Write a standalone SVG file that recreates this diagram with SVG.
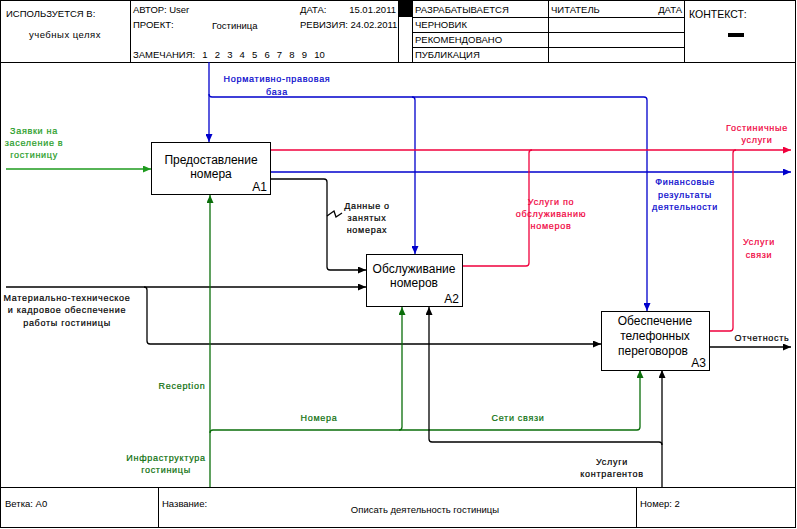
<svg xmlns="http://www.w3.org/2000/svg" width="797" height="529" viewBox="0 0 797 529">
<style>
.frame{fill:none;stroke:#000;stroke-width:1}
.hd{font-family:"Liberation Sans",Arial,sans-serif;font-size:9.5px;fill:#000}
.box{fill:#fff;stroke:#000;stroke-width:1}
.bt{font-family:"Liberation Sans",Arial,sans-serif;font-size:12px;fill:#000;text-anchor:middle}
.bn{font-family:"Liberation Sans",Arial,sans-serif;font-size:12px;fill:#000;text-anchor:end}
.lb{font-family:"Liberation Sans",Arial,sans-serif;font-size:9px;letter-spacing:0.7px;text-anchor:middle;stroke-width:0.2px}
.c{fill:none;stroke-width:1.3}
.k{stroke:#000}.b{stroke:#0000cc}.r{stroke:#f0003c}.g1{stroke:#1e9b1e}.g2{stroke:#0a6e0a}
</style>
<defs>
<marker id="ak" markerUnits="userSpaceOnUse" markerWidth="8" markerHeight="7" refX="8" refY="3.5" orient="auto"><path d="M0,0 L8,3.5 L0,7 z" fill="#000"/></marker>
<marker id="ab" markerUnits="userSpaceOnUse" markerWidth="8" markerHeight="7" refX="8" refY="3.5" orient="auto"><path d="M0,0 L8,3.5 L0,7 z" fill="#0000cc"/></marker>
<marker id="ar" markerUnits="userSpaceOnUse" markerWidth="8" markerHeight="7" refX="8" refY="3.5" orient="auto"><path d="M0,0 L8,3.5 L0,7 z" fill="#f0003c"/></marker>
<marker id="ag1" markerUnits="userSpaceOnUse" markerWidth="8" markerHeight="7" refX="8" refY="3.5" orient="auto"><path d="M0,0 L8,3.5 L0,7 z" fill="#1e9b1e"/></marker>
<marker id="ag2" markerUnits="userSpaceOnUse" markerWidth="8" markerHeight="7" refX="8" refY="3.5" orient="auto"><path d="M0,0 L8,3.5 L0,7 z" fill="#0a6e0a"/></marker>
</defs>
<rect width="797" height="529" fill="#fff"/>
<g id="frame">
<rect class="frame" x="0.5" y="0.5" width="795" height="527"/>
<path class="frame" d="M0,62.5 H796 M130.5,0 V62 M398.5,0 V62 M412.5,0 V62 M548.5,0 V62 M684.5,0 V62 M412,17.5 H684 M412,32.5 H684 M412,47.5 H684 M0,487.5 H796 M158.5,487 V528 M636.5,487 V528"/>
<rect x="398" y="0" width="14" height="17" fill="#000"/>
<rect x="728" y="33" width="16" height="4" fill="#000"/>
<text class="hd" x="6" y="17">ИСПОЛЬЗУЕТСЯ В:</text>
<text class="hd" x="65" y="38" text-anchor="middle" letter-spacing="0.5">учебных целях</text>
<text class="hd" x="133" y="13">АВТОР: User</text>
<text class="hd" x="133" y="28">ПРОЕКТ:</text>
<text class="hd" x="212" y="29">Гостиница</text>
<text class="hd" x="300" y="13">ДАТА:</text>
<text class="hd" x="396" y="13" text-anchor="end">15.01.2011</text>
<text class="hd" x="300" y="28">РЕВИЗИЯ: 24.02.2011</text>
<text class="hd" x="133" y="58" word-spacing="4.5px">ЗАМЕЧАНИЯ: 1 2 3 4 5 6 7 8 9 10</text>
<text class="hd" x="415" y="13">РАЗРАБАТЫВАЕТСЯ</text>
<text class="hd" x="415" y="28">ЧЕРНОВИК</text>
<text class="hd" x="415" y="43">РЕКОМЕНДОВАНО</text>
<text class="hd" x="415" y="58">ПУБЛИКАЦИЯ</text>
<text class="hd" x="551" y="13">ЧИТАТЕЛЬ</text>
<text class="hd" x="682" y="13" text-anchor="end">ДАТА</text>
<text class="hd" x="689" y="18" style="font-size:10.5px">КОНТЕКСТ:</text>
<text class="hd" x="5" y="507">Ветка:  А0</text>
<text class="hd" x="162" y="507">Название:</text>
<text class="hd" x="425" y="513" text-anchor="middle">Описать деятельность гостиницы</text>
<text class="hd" x="640" y="507">Номер: 2</text>
</g>
<g id="connectors">
<path class="c g1" d="M6,169 H151" marker-end="url(#ag1)"/>
<path class="c b" d="M209,62 V142" marker-end="url(#ab)"/>
<path class="c b" d="M209,94 Q209,97 212,97 H644 Q647,97 647,100 V311" marker-end="url(#ab)"/>
<path class="c b" d="M412,97 Q415,97 415,100 V254" marker-end="url(#ab)"/>
<path class="c r" d="M270,150 H791" marker-end="url(#ar)"/>
<path class="c b" d="M270,172 H791" marker-end="url(#ab)"/>
<path class="c k" d="M270,179 H324 Q327,179 327,182 V267 Q327,270 330,270 H366" marker-end="url(#ak)"/>
<path class="c k" d="M327,216 L334,211 L336,217 L342,213"/>
<path class="c r" d="M462,266 H526 Q529,266 529,263 V153 Q529,150 532,150"/>
<path class="c r" d="M709,331 H730 Q733,331 733,328 V153 Q733,150 736,150"/>
<path class="c k" d="M6,287 H366" marker-end="url(#ak)"/>
<path class="c k" d="M144,287 Q147,287 147,290 V341 Q147,344 150,344 H601" marker-end="url(#ak)"/>
<path class="c k" d="M709,347 H791" marker-end="url(#ak)"/>
<path class="c g2" d="M210,487 V195" marker-end="url(#ag2)"/>
<path class="c g2" d="M210,433 Q210,430 213,430 H637 Q640,430 640,427 V370" marker-end="url(#ag2)"/>
<path class="c g2" d="M399,430 Q402,430 402,427 V307" marker-end="url(#ag2)"/>
<path class="c k" d="M662,487 V370" marker-end="url(#ak)"/>
<path class="c k" d="M662,445 Q662,442 659,442 H432 Q429,442 429,439 V307" marker-end="url(#ak)"/>
</g>
<g id="labels">
<text class="lb" fill="#1e9b1e" stroke="#1e9b1e" x="34" y="134">Заявки на</text>
<text class="lb" fill="#1e9b1e" stroke="#1e9b1e" x="34" y="146">заселение в</text>
<text class="lb" fill="#1e9b1e" stroke="#1e9b1e" x="34" y="158">гостиницу</text>
<text class="lb" fill="#0000cc" stroke="#0000cc" x="277" y="82">Нормативно-правовая</text>
<text class="lb" fill="#0000cc" stroke="#0000cc" x="277" y="95">база</text>
<text class="lb" fill="#f0003c" stroke="#f0003c" x="757" y="131">Гостиничные</text>
<text class="lb" fill="#f0003c" stroke="#f0003c" x="757" y="143">услуги</text>
<text class="lb" fill="#0000cc" stroke="#0000cc" x="685" y="185">Финансовые</text>
<text class="lb" fill="#0000cc" stroke="#0000cc" x="685" y="198">результаты</text>
<text class="lb" fill="#0000cc" stroke="#0000cc" x="685" y="210">деятельности</text>
<text class="lb" fill="#000" stroke="#000" x="367" y="209">Данные о</text>
<text class="lb" fill="#000" stroke="#000" x="367" y="221">занятых</text>
<text class="lb" fill="#000" stroke="#000" x="367" y="233">номерах</text>
<text class="lb" fill="#f0003c" stroke="#f0003c" x="551" y="205">Услуги по</text>
<text class="lb" fill="#f0003c" stroke="#f0003c" x="551" y="217">обслуживанию</text>
<text class="lb" fill="#f0003c" stroke="#f0003c" x="551" y="229">номеров</text>
<text class="lb" fill="#f0003c" stroke="#f0003c" x="759" y="245">Услуги</text>
<text class="lb" fill="#f0003c" stroke="#f0003c" x="759" y="258">связи</text>
<text class="lb" fill="#000" stroke="#000" x="67" y="301">Материально-техническое</text>
<text class="lb" fill="#000" stroke="#000" x="67" y="313">и кадровое обеспечение</text>
<text class="lb" fill="#000" stroke="#000" x="67" y="326">работы гостиницы</text>
<text class="lb" fill="#000" stroke="#000" x="762" y="341">Отчетность</text>
<text class="lb" fill="#0a6e0a" stroke="#0a6e0a" x="182" y="389">Reception</text>
<text class="lb" fill="#0a6e0a" stroke="#0a6e0a" x="319" y="421">Номера</text>
<text class="lb" fill="#0a6e0a" stroke="#0a6e0a" x="518" y="421">Сети связи</text>
<text class="lb" fill="#0a6e0a" stroke="#0a6e0a" x="166" y="461">Инфраструктура</text>
<text class="lb" fill="#0a6e0a" stroke="#0a6e0a" x="166" y="473">гостиницы</text>
<text class="lb" fill="#000" stroke="#000" x="612" y="465">Услуги</text>
<text class="lb" fill="#000" stroke="#000" x="612" y="477">контрагентов</text>
</g>
<g id="A1">
<rect class="box" x="151.5" y="142.5" width="119" height="52"/>
<text class="bt" x="211" y="164">Предоставление</text>
<text class="bt" x="211" y="178">номера</text>
<text class="bn" x="267" y="191">A1</text>
</g>
<g id="A2">
<rect class="box" x="366.5" y="254.5" width="96" height="52"/>
<text class="bt" x="414" y="273">Обслуживание</text>
<text class="bt" x="414" y="287">номеров</text>
<text class="bn" x="459" y="303">A2</text>
</g>
<g id="A3">
<rect class="box" x="601.5" y="311.5" width="108" height="59"/>
<text class="bt" x="655" y="325">Обеспечение</text>
<text class="bt" x="655" y="340">телефонных</text>
<text class="bt" x="653" y="355">переговоров</text>
<text class="bn" x="706" y="367">A3</text>
</g>
</svg>
